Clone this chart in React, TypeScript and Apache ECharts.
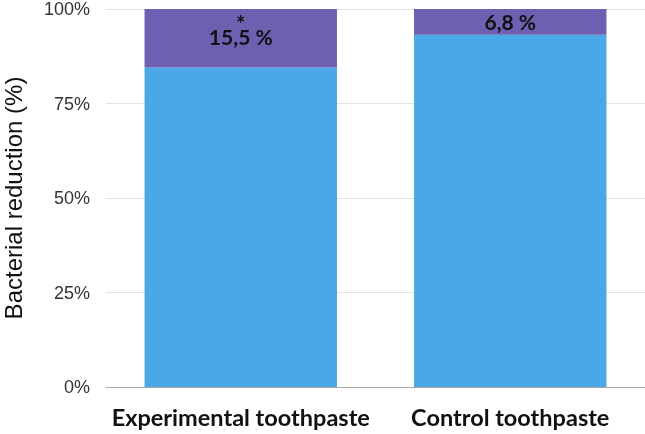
import React, { useEffect, useRef } from "react";
import * as echarts from "echarts";

const categories = ["Experimental toothpaste", "Control toothpaste"];
const reducedValues = [84.5, 93.2];
const remainingValues = [15.5, 6.8];
const remainingLabels = ["15,5 %", "6,8 %"];
const significance = ["*", ""];
const yTicks = [0, 25, 50, 75, 100];

export default function App() {
  const ref = useRef<HTMLDivElement>(null);
  useEffect(() => {
    if (!ref.current) return;
    const chart = echarts.init(ref.current, null, { renderer: "svg" });
    chart.setOption({
      animation: false,
      grid: {
        left: 106,
        right: 0,
        top: 9,
        bottom: 47,
        containLabel: false,
        outerBoundsMode: "none",
      },
      xAxis: {
        type: "category",
        data: categories,
        axisTick: { show: false },
        axisLine: { lineStyle: { color: "#a8a8a8", width: 1 } },
        axisLabel: {
          interval: 0,
          margin: 18,
          fontFamily: "Lato",
          fontWeight: "bold",
          fontSize: 23.5,
          color: "#111",
        },
      },
      yAxis: {
        type: "value",
        min: 0,
        max: 100,
        interval: 25,
        name: "Bacterial reduction (%)",
        nameLocation: "middle",
        nameGap: 81,
        nameTextStyle: {
          fontFamily: "Liberation Sans",
          fontSize: 24,
          color: "#111",
        },
        axisLabel: {
          margin: 16,
          fontFamily: "Liberation Sans",
          fontSize: 18,
          color: "#333",
          formatter: (v: number) => (yTicks.includes(v) ? v + "%" : ""),
        },
        splitLine: { lineStyle: { color: "#e2e2e2", width: 1 } },
      },
      series: [
        {
          type: "bar",
          stack: "total",
          data: reducedValues,
          barCategoryGap: "28.6%",
          itemStyle: { color: "#4aa8e6" },
        },
        {
          type: "bar",
          stack: "total",
          data: remainingValues.map((v, i) => ({
            value: v,
            label: significance[i]
              ? {
                  show: true,
                  position: "insideTop",
                  distance: 9,
                  formatter: "{s|" + significance[i] + "}\n{v|" + remainingLabels[i] + "}",
                }
              : {
                  show: true,
                  position: "inside",
                  formatter: "{v|" + remainingLabels[i] + "}",
                },
          })),
          itemStyle: { color: "#6e5fb0" },
          label: {
            rich: {
              s: {
                fontFamily: "Lato",
                fontWeight: "bold",
                fontSize: 22,
                lineHeight: 10,
                color: "#111",
                align: "center",
              },
              v: {
                fontFamily: "Lato",
                fontWeight: "bold",
                fontSize: 21,
                lineHeight: 16,
                color: "#111",
                align: "center",
              },
            },
          },
        },
      ],
    });
    return () => chart.dispose();
  }, []);
  return (
    <div
      ref={ref}
      style={{ position: "fixed", left: 0, top: 0, width: 645, height: 434 }}
    />
  );
}
